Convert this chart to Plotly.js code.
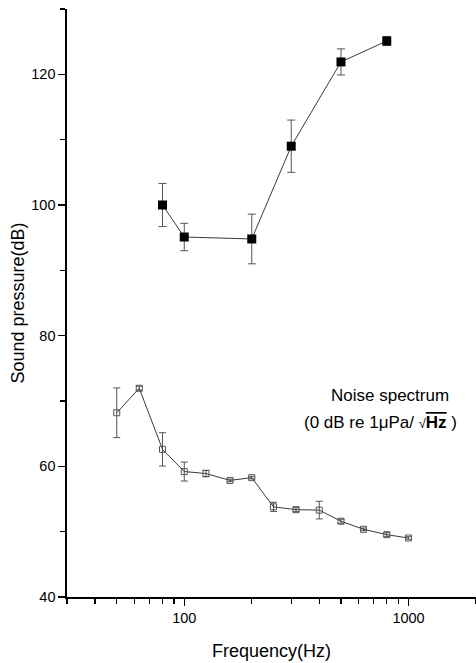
<!DOCTYPE html>
<html>
<head>
<meta charset="utf-8">
<script src="https://cdn.plot.ly/plotly-3.0.1.min.js"></script>
<style>html,body{margin:0;padding:0;background:#fff;}#chart{width:476px;height:663px;}</style>
</head>
<body>
<div id="chart"></div>
<script>
// Upper series (filled squares)
const upperFreq = [80, 100, 200, 300, 500, 800];
const upperLevel = [100.0, 95.1, 94.8, 109.0, 121.9, 125.1];
const upperErr = [3.3, 2.1, 3.8, 4.0, 2.0, 0.7];

// Noise spectrum (open squares)
const noiseFreq = [50, 63, 80, 100, 125, 160, 200, 250, 315, 400, 500, 630, 800, 1000];
const noiseLevel = [68.2, 71.95, 62.6, 59.2, 58.9, 57.85, 58.27, 53.8, 53.37, 53.3, 51.6, 50.36, 49.54, 49.03];
const noiseErr = [3.8, 0.3, 2.55, 1.45, 0.5, 0.2, 0.2, 0.7, 0.3, 1.35, 0.3, 0.2, 0.3, 0.2];

const xMajor = [100, 1000];
const xMajorText = ['100', '1000'];
const xMinor = [30, 40, 50, 60, 70, 80, 90, 200, 300, 400, 500, 600, 700, 800, 900, 2000];
const yMajor = [40, 60, 80, 100, 120];
const yMinor = [50, 70, 90, 110, 130];

const FONT = 'Liberation Sans, Arial, sans-serif';

const traces = [
  {
    x: noiseFreq, y: noiseLevel, type: 'scatter', mode: 'lines+markers',
    line: {color: '#3a3a3a', width: 1},
    marker: {symbol: 'square-open', size: 6, color: '#555', line: {width: 1}},
    error_y: {type: 'data', array: noiseErr, visible: true, color: '#555', thickness: 1, width: 3.5},
    showlegend: false
  },
  {
    x: upperFreq, y: upperLevel, type: 'scatter', mode: 'lines+markers',
    line: {color: '#3a3a3a', width: 1},
    marker: {symbol: 'square', size: 9, color: '#000'},
    error_y: {type: 'data', array: upperErr, visible: true, color: '#555', thickness: 1, width: 4},
    showlegend: false
  }
];

const layout = {
  width: 476, height: 663,
  margin: {l: 67, r: 0, t: 8.5, b: 66},
  paper_bgcolor: '#fff', plot_bgcolor: '#fff',
  font: {family: FONT, color: '#000', size: 14.5},
  xaxis: {
    type: 'log', range: [Math.log10(30), Math.log10(2000)],
    tickmode: 'array', tickvals: xMajor, ticktext: xMajorText,
    ticks: 'outside', ticklen: 7, tickwidth: 1.3, tickcolor: '#000',
    showline: true, linecolor: '#000', linewidth: 1.6,
    showgrid: false, zeroline: false,
    tickfont: {family: FONT, size: 14.5, color: '#000'},
    minor: {tickmode: 'array', tickvals: xMinor, ticks: 'outside', ticklen: 5, tickwidth: 1.3, tickcolor: '#000', showgrid: false},
    title: {text: 'Frequency(Hz)', font: {family: FONT, size: 18, color: '#000'}, standoff: 19}
  },
  yaxis: {
    range: [40, 130],
    tickmode: 'array', tickvals: yMajor,
    ticks: 'outside', ticklen: 7, tickwidth: 1.3, tickcolor: '#000',
    showline: true, linecolor: '#000', linewidth: 1.6,
    showgrid: false, zeroline: false,
    tickfont: {family: FONT, size: 14.5, color: '#000'},
    minor: {tickmode: 'array', tickvals: yMinor, ticks: 'outside', ticklen: 5, tickwidth: 1.3, tickcolor: '#000', showgrid: false},
    title: {text: 'Sound pressure(dB)', font: {family: FONT, size: 18, color: '#000'}, standoff: 2}
  },
  annotations: [
    {xref: 'paper', yref: 'paper', x: (390 - 67) / 409, y: (597 - 395) / 588.5,
     text: 'Noise spectrum', showarrow: false, xanchor: 'center', yanchor: 'middle',
     font: {family: FONT, size: 17, color: '#000'}},
    {xref: 'paper', yref: 'paper', x: (380 - 67) / 409, y: (597 - 422) / 588.5,
     text: '(0 dB re 1μPa/ <span style="font-size:13px">√</span><span style="text-decoration:overline;font-family:Liberation Sans Narrow, Arial Narrow, sans-serif"><b>Hz</b></span> )',
     showarrow: false, xanchor: 'center', yanchor: 'middle',
     font: {family: FONT, size: 17, color: '#000'}}
  ]
};

Plotly.newPlot('chart', traces, layout, {displayModeBar: false, staticPlot: true});
</script>
</body>
</html>
